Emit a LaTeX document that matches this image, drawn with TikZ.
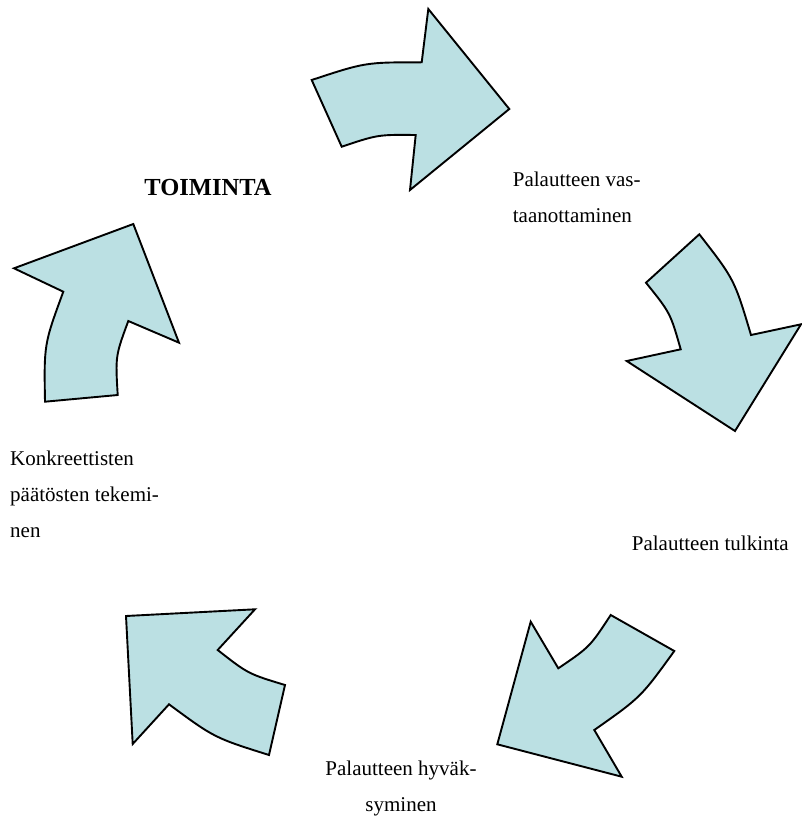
\documentclass[tikz,border=0pt]{standalone}
\usepackage{fontspec}
\setmainfont{Liberation Serif}
\definecolor{arrowfill}{RGB}{187,224,227}
\begin{document}
\begin{tikzpicture}[x=1pt,y=-1pt,
  cyclearrow/.style={draw=black,fill=arrowfill,line width=1.9pt,line join=miter},
  lbl/.style={inner sep=0pt,font=\fontsize{21}{36}\selectfont},
  title/.style={inner sep=0pt,font=\fontsize{24.5}{30}\selectfont\bfseries}]
\path[use as bounding box] (0,0) rectangle (801,816);
% top arrow
\draw[cyclearrow] (311.7,80) .. controls (365.4,62.3) .. (421.7,62.3) -- (428.3,9) -- (509.3,109) -- (410,190) -- (415.7,135) .. controls (377.9,134.6) .. (341.7,146.7) -- cycle;
% right arrow
\draw[cyclearrow] (699.3,234.3) .. controls (734.4,279.4) .. (751,335) -- (801,324.3) -- (735,431) -- (626.7,361) -- (680.7,349.3) .. controls (670.3,312.9) .. (646,282.7) -- cycle;
% bottom right arrow
\draw[cyclearrow] (674.3,651) .. controls (640.9,697.2) .. (594.3,730) -- (621.7,776.7) -- (497.3,744.3) -- (530.7,621.7) -- (558.3,668.3) .. controls (589.8,646.9) .. (610.7,615) -- cycle;
% bottom left arrow
\draw[cyclearrow] (269,755) .. controls (214.4,737.8) .. (169,704.3) -- (132.7,744) -- (126,616) -- (255,609.3) -- (217.7,650) .. controls (248.1,673.8) .. (285,685) -- cycle;
% left arrow
\draw[cyclearrow] (45,401.7) .. controls (44,344.2) .. (63.3,291.7) -- (14,268.3) -- (133.3,224) -- (179,342.7) -- (128.3,321) .. controls (115.4,356) .. (117.7,395) -- cycle;
% labels
\node[title,anchor=base] (toiminta) at (208,195) {TOIMINTA};
\node[lbl,align=left,anchor=base west] (vastaanotto) at (512.7,222) {Palautteen vas-\\taanottaminen};
\node[lbl,anchor=base west] (tulkinta) at (631.7,550.7) {Palautteen tulkinta};
\node[lbl,align=center,anchor=base] (hyvaksyminen) at (401,811) {Palautteen hyväk-\\syminen};
\node[lbl,align=left,anchor=base west] (paatokset) at (10,537) {Konkreettisten\\päätösten tekemi-\\nen};
\end{tikzpicture}
\end{document}
